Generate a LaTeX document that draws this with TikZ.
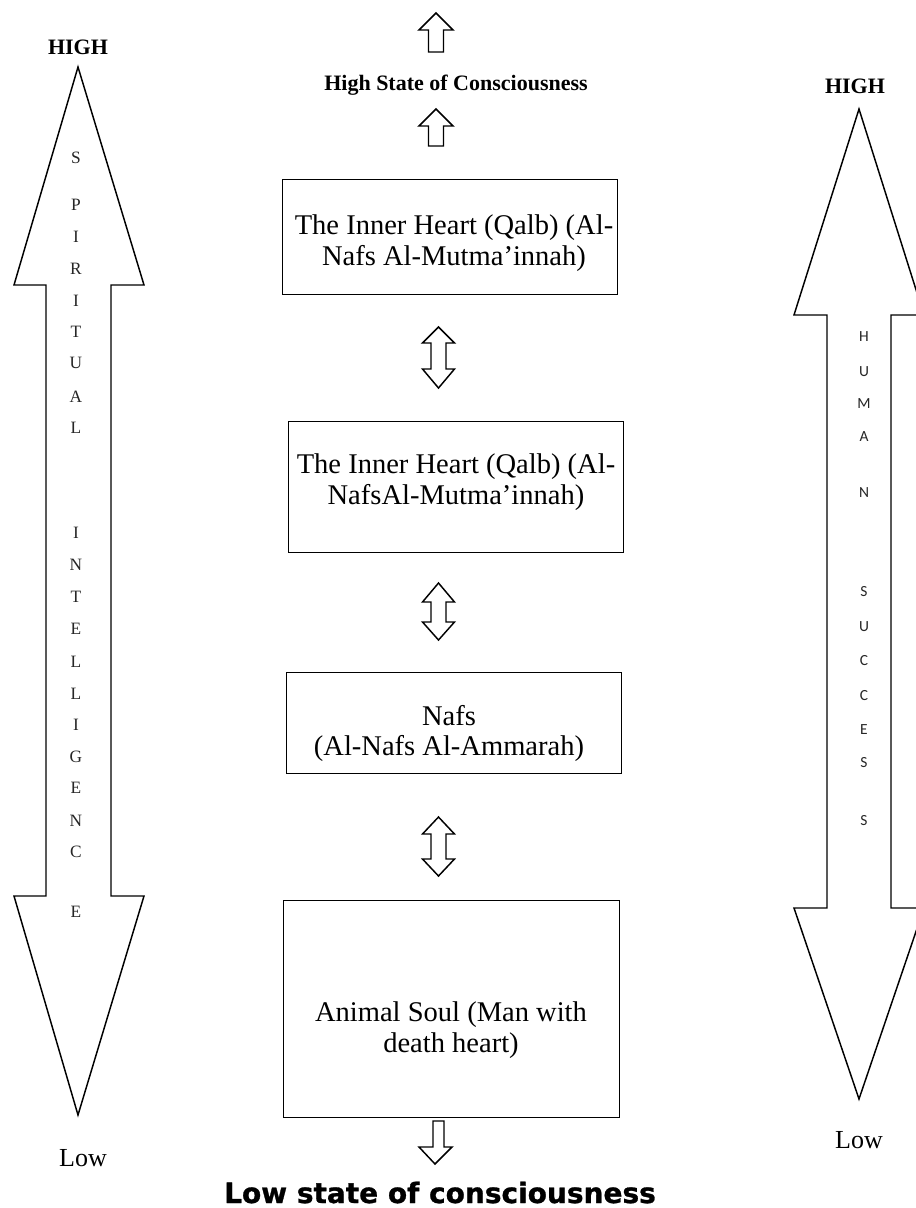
\documentclass[tikz,border=0pt]{standalone}
\usepackage{fontspec}
\setmainfont{Liberation Serif}
\newfontfamily\carlito{Carlito}
\newfontfamily\heavy{DejaVu Sans}[BoldFeatures={FakeBold=1}]
\begin{document}
\begin{tikzpicture}[x=0.75pt,y=-0.75pt,
  outl/.style={draw=black, line width=1.1pt, line join=miter, fill=white},
  blk/.style={draw=black, line width=1.1pt, line join=miter, fill=white},
  box/.style={draw=black, line width=1pt, anchor=north west, inner sep=0pt},
  boxtxt/.style={font=\fontsize{21.4}{23}\selectfont, align=center, inner sep=0pt},
  lett/.style={font=\fontsize{13}{13}\selectfont, inner sep=0pt, text=black!85},
  lettR/.style={font=\carlito\fontsize{11.6}{12}\selectfont, inner sep=0pt, text=black!85},
  hi/.style={font=\bfseries\fontsize{16.5}{18}\selectfont, inner sep=0pt},
  lo/.style={font=\fontsize{19.5}{20}\selectfont, inner sep=0pt}
]
\path[use as bounding box] (0,0) rectangle (916,1208);
\clip (0,0) rectangle (916,1208);

% big left arrow
\draw[outl] (78,67) -- (144,285) -- (111,285) -- (111,896) -- (144,896) -- (78,1115)
  -- (14,896) -- (46,896) -- (46,285) -- (14,285) -- cycle;
% big right arrow
\draw[outl] (859,109) -- (924,315) -- (891,315) -- (891,908) -- (924,908) -- (859,1099)
  -- (794,908) -- (827,908) -- (827,315) -- (794,315) -- cycle;

% left letters
\foreach \l/\yy [count=\i] in {S/158,P/205,I/237,R/269,I/301,T/332,U/363,A/397,L/428,
  I/533,N/565,T/597,E/629,L/662,L/694,I/725,G/757,E/788,N/821,C/852,E/912}
  \node[lett] (ls\i) at (76,\yy) {\l};
% right letters
\foreach \l/\yy [count=\i] in {H/337,U/372,M/404,A/437,N/493,S/592,U/627,C/661,C/696,E/730,S/763,S/821}
  \node[lettR] (rs\i) at (864,\yy) {\l};

% labels
\node[hi] (highL) at (78,47) {HIGH};
\node[hi] (highR) at (855,86) {HIGH};
\node[hi] (hsc) at (456,85) {High State of Consciousness};
\node[lo] (lowL) at (83,1158) {Low};
\node[lo] (lowR) at (859,1140) {Low};
\node[font=\heavy\bfseries\fontsize{21}{22}\selectfont, inner sep=0pt, anchor=base] (lsc) at (440,1203) {Low state of consciousness};

% boxes
\node[box, minimum width=251.25pt, minimum height=86.25pt] (b1) at (282,179) {};
\node[box, minimum width=251.25pt, minimum height=98.25pt] (b2) at (288,421) {};
\node[box, minimum width=251.25pt, minimum height=75.75pt] (b3) at (286,672) {};
\node[box, minimum width=252pt, minimum height=162.75pt] (b4) at (283,900) {};

\node[boxtxt] (t1) at (454,243) {The Inner Heart (Qalb) (Al-\\Nafs Al-Mutma’innah)};
\node[boxtxt] (t2) at (456,482) {The Inner Heart (Qalb) (Al-\\NafsAl-Mutma’innah)};
\node[boxtxt] (t3) at (449,733.5) {Nafs\\(Al-Nafs Al-Ammarah)};
\node[boxtxt] (t4) at (451,1030) {Animal Soul (Man with\\death heart)};

% small up arrows
\draw[blk] (436,13) -- (453,30) -- (443.5,30) -- (443.5,52) -- (428.5,52) -- (428.5,30) -- (419,30) -- cycle;
\draw[blk] (436,109) -- (453,126) -- (443.5,126) -- (443.5,146) -- (428.5,146) -- (428.5,126) -- (419,126) -- cycle;
% double arrows between boxes
\foreach \ta/\ba/\bb/\tb in {327/343/369/388, 583/602/622/640, 817/834/859/876}
  \draw[blk] (438.5,\ta) -- (454.5,\ba) -- (446,\ba) -- (446,\bb) -- (454.5,\bb) -- (438.5,\tb)
    -- (422.5,\bb) -- (431,\bb) -- (431,\ba) -- (422.5,\ba) -- cycle;
% down arrow
\draw[blk] (433,1121) -- (444,1121) -- (444,1147) -- (452,1147) -- (435,1164) -- (419,1147) -- (433,1147) -- cycle;
\end{tikzpicture}
\end{document}
